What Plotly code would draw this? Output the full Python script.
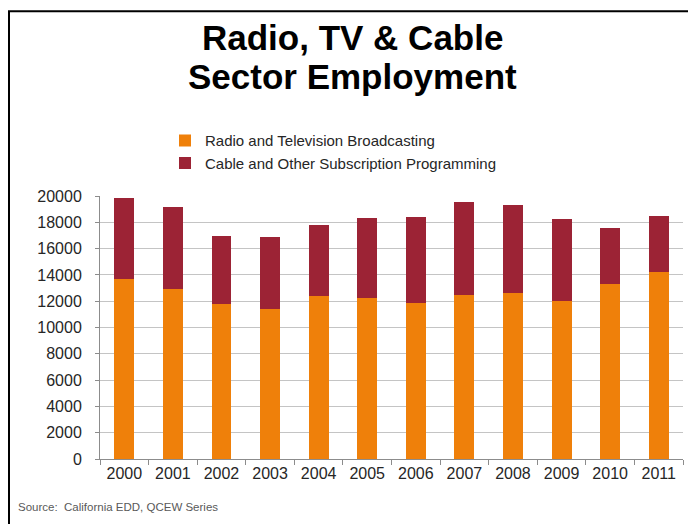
import plotly.graph_objects as go

years = ["2000", "2001", "2002", "2003", "2004", "2005", "2006", "2007", "2008", "2009", "2010", "2011"]
radio_tv = [13710, 12930, 11790, 11380, 12370, 12240, 11860, 12450, 12620, 12040, 13310, 14220]
cable = [6160, 6210, 5140, 5500, 5400, 6110, 6520, 7120, 6720, 6240, 4260, 4290]
y_ticks = [0, 2000, 4000, 6000, 8000, 10000, 12000, 14000, 16000, 18000, 20000]
y_tick_labels = ["0", "2000", "4000", "6000", "8000", "10000", "12000", "14000", "16000", "18000", "20000"]

ORANGE = "#EF800A"
RED = "#9C2335"
FONT = "Liberation Sans, Arial, sans-serif"

fig = go.Figure()
fig.add_trace(go.Bar(x=years, y=radio_tv, name="Radio and Television Broadcasting",
                     marker=dict(color=ORANGE, line=dict(width=0))))
fig.add_trace(go.Bar(x=years, y=cable, name="Cable and Other Subscription Programming",
                     marker=dict(color=RED, line=dict(width=0))))

# page body has an 8px margin; work in window pixels and shift
OFF = 8
W, H = 696 - OFF, 524 - OFF
L, T = 100 - OFF, 196 - OFF
R = 696 - 683
B = 524 - 459.5
pw = W - L - R
ph = H - T - B

def px(x):
    return (x - OFF - L) / pw

def py(y):
    return (T + ph - (y - OFF)) / ph

fig.update_layout(
    width=W, height=H,
    margin=dict(l=L, r=R, t=T, b=B),
    paper_bgcolor="white", plot_bgcolor="white",
    barmode="stack", bargap=0.59,
    font=dict(family=FONT, color="#262626"),
    showlegend=True,
    legend=dict(x=px(165), xanchor="left", y=py(124), yanchor="top",
                traceorder="normal", font=dict(size=15, color="#262626"),
                bgcolor="rgba(0,0,0,0)", itemclick=False),
    xaxis=dict(type="category", showgrid=False, showline=True, linecolor="#8c8c8c", linewidth=1,
               ticks="outside", tickson="boundaries", ticklen=5, tickcolor="#8c8c8c",
               tickfont=dict(size=16, color="#262626"), fixedrange=True),
    yaxis=dict(range=[0, 20000], tickvals=y_ticks, ticktext=y_tick_labels,
               showgrid=True, gridcolor="#c4c4c4", gridwidth=1,
               showline=True, linecolor="#8c8c8c", linewidth=1, zeroline=False,
               ticks="outside", ticklen=4, tickcolor="#8c8c8c", ticklabelstandoff=10,
               tickfont=dict(size=16, color="#262626"), fixedrange=True),
    annotations=[
        dict(text="<b>Radio, TV &amp; Cable</b>", xref="paper", yref="paper", x=px(352.5), y=py(37),
             xanchor="center", yanchor="middle", showarrow=False,
             font=dict(size=35, color="black", family=FONT)),
        dict(text="<b>Sector Employment</b>", xref="paper", yref="paper", x=px(352.5), y=py(76.5),
             xanchor="center", yanchor="middle", showarrow=False,
             font=dict(size=35, color="black", family=FONT)),
        dict(text="Source:  California EDD, QCEW Series", xref="paper", yref="paper", x=px(16), y=py(507.5),
             xanchor="left", yanchor="middle", showarrow=False,
             font=dict(size=11.5, color="#595959", family=FONT)),
    ],
    shapes=[
        dict(type="line", xref="paper", yref="paper", x0=px(9), x1=px(9), y0=py(11), y1=py(540),
             line=dict(color="black", width=2)),
        dict(type="line", xref="paper", yref="paper", x0=px(8), x1=px(710), y0=py(11), y1=py(11),
             line=dict(color="black", width=2)),
    ],
)

fig.write_html("out.html")
